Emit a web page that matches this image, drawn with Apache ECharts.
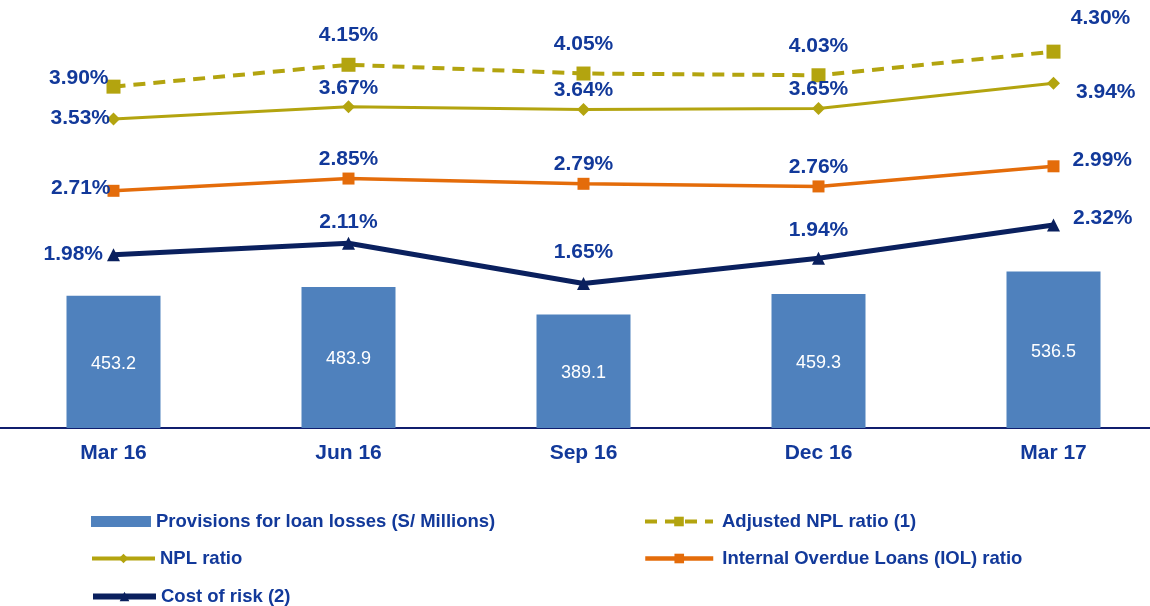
<!DOCTYPE html>
<html>
<head>
<meta charset="utf-8">
<script src="https://cdn.jsdelivr.net/npm/echarts@6/dist/echarts.min.js"></script>
<style>
  html, body { margin: 0; padding: 0; background: #fff; }
  #chart { width: 1150px; height: 606px; }
</style>
</head>
<body>
<div id="chart"></div>
<script>
const categories = ['Mar 16', 'Jun 16', 'Sep 16', 'Dec 16', 'Mar 17']
const provisions = [453.2, 483.9, 389.1, 459.3, 536.5]
const adjustedNpl = [3.90, 4.15, 4.05, 4.03, 4.30]
const nplRatio = [3.53, 3.67, 3.64, 3.65, 3.94]
const iolRatio = [2.71, 2.85, 2.79, 2.76, 2.99]
const costOfRisk = [1.98, 2.11, 1.65, 1.94, 2.32]

const names = [
  'Provisions for loan losses (S/ Millions)',
  'Adjusted NPL ratio (1)',
  'NPL ratio',
  'Internal Overdue Loans (IOL) ratio',
  'Cost of risk (2)'
]

const textBlue = '#12399a'
const font = 'Liberation Sans, Arial, sans-serif'

// label placement per point: [position, distance, dx, dy]
const adjPlace = [['left', -2, 0, -8], ['top', 12, 0, 0], ['top', 12, 0, 0], ['top', 12, 0, 0], ['top', 16, 47, 0]]
const nplPlace = [['left', -3, 0, -1], ['top', 2, 0, 0], ['top', 2, 0, 0], ['top', 2, 0, 0], ['right', 16, 0, 9]]
const iolPlace = [['left', -3, 0, -3], ['top', 3, 0, 0], ['top', 3, 0, 0], ['top', 3, 0, 0], ['right', 13, 0, -6]]
const corPlace = [['left', 4, 0, 0], ['top', 4, 0, 0], ['top', 14, 0, 0], ['top', 11, 0, 0], ['right', 13, 0, -7]]

const withLabels = (values, place) => values.map((v, i) => ({
  value: v,
  label: {
    position: place[i][0],
    distance: place[i][1],
    offset: [place[i][2], place[i][3]]
  }
}))

const lineLabel = {
  show: true,
  color: textBlue,
  fontFamily: font,
  fontWeight: 'bold',
  fontSize: 21,
  formatter: p => p.value.toFixed(2) + '%'
}

const legendText = { color: textBlue, fontFamily: font, fontWeight: 'bold', fontSize: 18.5 }
const legendAt = (name, left, top, width, lineWidth) => ({
  data: [name],
  left: left,
  top: top,
  padding: 0,
  itemWidth: width,
  itemHeight: 12,
  itemGap: 0,
  textStyle: legendText,
  lineStyle: { width: lineWidth },
  selectedMode: false
})

const chart = echarts.init(document.getElementById('chart'))
chart.setOption({
  animation: false,
  backgroundColor: '#fff',
  grid: { left: -4, right: -21, top: 0, bottom: 178, containLabel: false, outerBoundsMode: 'none' },
  legend: [
    Object.assign(legendAt(names[0], 91, 512, 60, 0), { icon: 'rect', itemHeight: 11, lineStyle: {} }),
    Object.assign(legendAt(names[1], 643, 512, 68, 4), { textStyle: Object.assign({ padding: [0, 0, 0, 4] }, legendText) }),
    legendAt(names[2], 90, 549, 63, 4),
    Object.assign(legendAt(names[3], 643, 549, 68, 4.5), { textStyle: Object.assign({ padding: [0, 0, 0, 4] }, legendText) }),
    legendAt(names[4], 90, 587, 63, 6)
  ],
  xAxis: {
    type: 'category',
    data: categories,
    axisTick: { show: false },
    axisLine: { lineStyle: { color: '#101e6e', width: 2 } },
    axisLabel: { color: textBlue, fontFamily: font, fontWeight: 'bold', fontSize: 21, margin: 15 }
  },
  yAxis: [
    { type: 'value', min: 0, max: 1468, show: false, splitLine: { show: false } },
    { type: 'value', min: 0, max: 4.89, show: false, splitLine: { show: false } }
  ],
  series: [
    {
      name: names[0],
      type: 'bar',
      data: provisions,
      barWidth: 94,
      itemStyle: { color: '#4f81bd' },
      label: {
        show: true,
        position: 'inside',
        color: '#fff',
        fontFamily: font,
        fontSize: 18,
        offset: [0, 2],
        formatter: p => p.value.toFixed(1)
      }
    },
    {
      name: names[1],
      type: 'line',
      yAxisIndex: 1,
      data: withLabels(adjustedNpl, adjPlace),
      symbol: 'rect',
      symbolSize: 14,
      itemStyle: { color: '#b3a40f' },
      lineStyle: { color: '#b3a40f', width: 4, type: [12, 8] },
      label: lineLabel
    },
    {
      name: names[2],
      type: 'line',
      yAxisIndex: 1,
      data: withLabels(nplRatio, nplPlace),
      symbol: 'diamond',
      symbolSize: 13,
      itemStyle: { color: '#b3a40f' },
      lineStyle: { color: '#b3a40f', width: 3 },
      label: lineLabel
    },
    {
      name: names[3],
      type: 'line',
      yAxisIndex: 1,
      data: withLabels(iolRatio, iolPlace),
      symbol: 'rect',
      symbolSize: 12,
      itemStyle: { color: '#e46c0a' },
      lineStyle: { color: '#e46c0a', width: 3.5 },
      label: lineLabel
    },
    {
      name: names[4],
      type: 'line',
      yAxisIndex: 1,
      data: withLabels(costOfRisk, corPlace),
      symbol: 'triangle',
      symbolSize: 13,
      itemStyle: { color: '#0a205e' },
      lineStyle: { color: '#0a205e', width: 5 },
      label: lineLabel
    }
  ]
})
</script>
</body>
</html>
